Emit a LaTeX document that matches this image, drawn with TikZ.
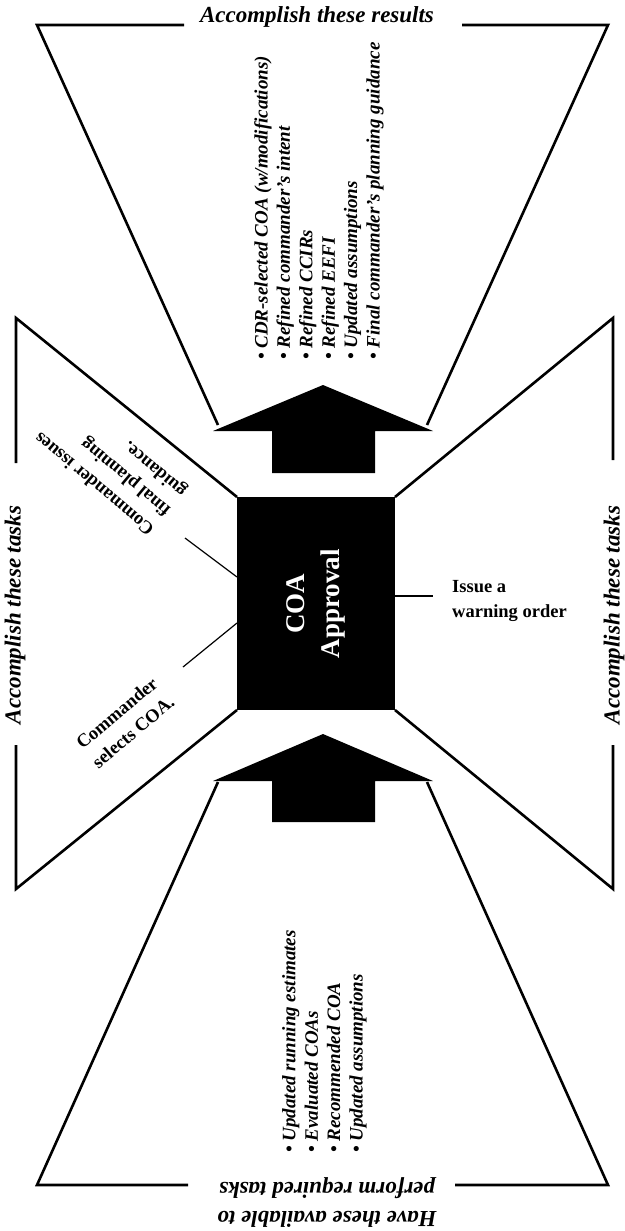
\documentclass[tikz,border=0pt]{standalone}
\usepackage{fontspec}
\setmainfont{Liberation Serif}
\begin{document}
\begin{tikzpicture}[x=1pt,y=-1pt,
  outline/.style={line width=2.6pt},
  leader/.style={line width=1.2pt},
  bigarrow/.style={fill=black},
  coabox/.style={fill=black, inner sep=0pt, outer sep=0pt, minimum width=158pt, minimum height=213pt},
  coatext/.style={text=white, align=center, inner sep=0pt, font=\fontsize{27}{35}\selectfont\bfseries},
  headline/.style={inner sep=0pt, font=\fontsize{23}{29}\selectfont\bfseries\itshape},
  bullets/.style={rotate=90, align=left, inner sep=0pt, font=\fontsize{19}{22.4}\selectfont\bfseries\itshape},
  note/.style={align=left, inner sep=0pt, font=\fontsize{18.5}{25}\selectfont\bfseries}]
\useasboundingbox (0,0) rectangle (624,1231);

% central step
\node[coabox] (coa) at (316,603.5) {};
\node[coatext, rotate=90] (coalabel) at (coa.center) {COA\\Approval};

% results funnel (top)
\draw[outline] (184,25) -- (37,25) -- (218,425);
\draw[outline] (462,25) -- (608,25) -- (427,425);
% inputs funnel (bottom)
\draw[outline] (188,1185) -- (37,1185) -- (218,782);
\draw[outline] (455,1185) -- (608,1185) -- (427,782);
% task wings (left and right)
\draw[outline] (16,463) -- (16,318) -- (coa.north west);
\draw[outline] (16,745) -- (16,889) -- (coa.south west);
\draw[outline] (613,460) -- (613,318) -- (coa.north east);
\draw[outline] (613,745) -- (613,889) -- (coa.south east);

% flow arrows
\fill[bigarrow] (323,385) -- (433,431) -- (375,431) -- (375,473) -- (272,473) -- (272,431) -- (213,431) -- cycle;
\fill[bigarrow] (323,734) -- (433,781) -- (375,781) -- (375,822) -- (272,822) -- (272,781) -- (213,781) -- cycle;

% headings
\node[headline, anchor=base] (restitle) at (317,23) {Accomplish these results};
\node[headline, rotate=90] (lefttitle) at (15,615) {Accomplish these tasks};
\node[headline, rotate=90] (righttitle) at (614,615) {Accomplish these tasks};
\node[headline, rotate=180, align=center] (intitle) at (327,1203) {Have these available to\\perform required tasks};

% lists
\node[bullets, anchor=north west] (results) at (254,360) {• CDR-selected COA (w/modifications)\\• Refined commander’s intent\\• Refined CCIRs\\• Refined EEFI\\• Updated assumptions\\• Final commander’s planning guidance};
\node[bullets, anchor=north west] (inputs) at (282,1153) {• Updated running estimates\\• Evaluated COAs\\• Recommended COA\\• Updated assumptions};

% task notes
\node[note, anchor=north west] (issue) at (452,580.5) {Issue a\\warning order};
\coordinate (issueend) at (433,596);
\draw[leader] (coa.east |- issueend) -- (issueend);

\node[note, rotate=140, anchor=north west] (guidance) at (147,538) {Commander issues\\final planning\\guidance.};
\coordinate (guidend) at (185,538);
\coordinate (guidjoin) at (237,577);
\draw[leader] (guidend) -- (coa.west |- guidjoin);

\node[note, rotate=40, anchor=north west] (selects) at (74,740) {Commander\\selects COA.};
\coordinate (selend) at (183,667);
\coordinate (seljoin) at (237,623);
\draw[leader] (coa.west |- seljoin) -- (selend);
\end{tikzpicture}
\end{document}
